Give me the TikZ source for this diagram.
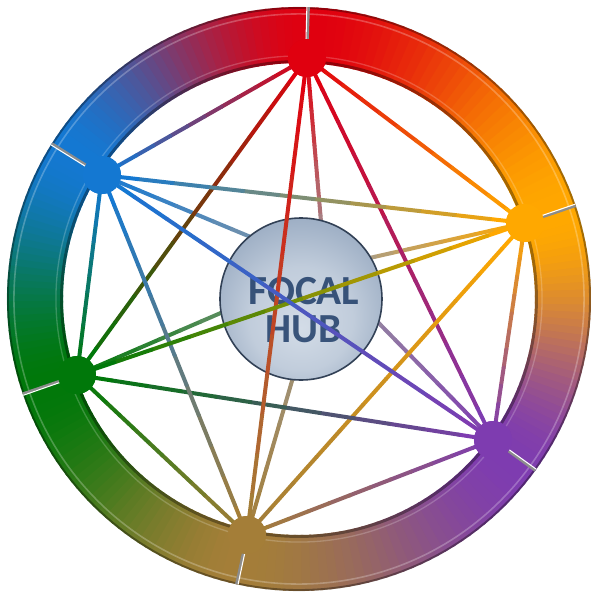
\documentclass[tikz,border=0pt]{standalone}
\usepackage{fontspec}
\setmainfont{Carlito}
\usepackage{tikz}
\usetikzlibrary{calc}
\definecolor{redhub}{HTML}{E0000F}
\definecolor{orangehub}{HTML}{FFA800}
\definecolor{purplehub}{HTML}{7E3CB0}
\definecolor{brownhub}{HTML}{A47E38}
\definecolor{greenhub}{HTML}{00780A}
\definecolor{bluehub}{HTML}{1478D2}
\definecolor{spokegrey}{HTML}{9C9C9C}
\definecolor{hubtextcol}{HTML}{1F3D68}
\definecolor{hublight}{HTML}{D3DCE7}
\definecolor{hubmid}{HTML}{8A9EB8}
\definecolor{hubdark}{HTML}{536C8F}
\pgfdeclareradialshading{hubshade}{\pgfpoint{0bp}{-9bp}}{%
  color(0bp)=(hublight); color(16bp)=(hublight!75!hubmid);
  color(36bp)=(hubmid); color(50bp)=(hubdark)}
\tikzset{
  ringdot/.style={circle, minimum size=28.5pt, inner sep=0pt, fill=#1},
  hubball/.style={circle, minimum size=121.5pt, inner sep=0pt,
    shading=hubshade, draw=hubdark!60!black, line width=1.2pt},
  hubtext/.style={font=\fontsize{31}{28.5}\selectfont\bfseries, text=hubtextcol,
    align=center, opacity=0.85, inner sep=0pt},
  link/.style={line width=3pt, line cap=round},
  ringedge/.style={line width=#1, opacity=0.35},
  separator/.style={black!45, line width=1.8pt}
}
% link that fades from one colour into the other
\newcommand{\gradlink}[4]{%
  \foreach \k in {0,...,11}{
    \pgfmathtruncatemacro{\mixp}{100-100*\k/11}
    \draw[link, #3!\mixp!#4] ($(#1)!\k/12!(#2)$) -- ($(#1)!\k/12+1/12!(#2)$);
  }}
% one stretch of the ring, between two separators
\newcommand{\ringpart}[4]{%
  \foreach \k in {0,...,35}{
    \pgfmathsetmacro{\ta}{#1+(#2-#1)*\k/36}
    \pgfmathsetmacro{\tb}{#1+(#2-#1)*(\k+1.3)/36}
    \pgfmathsetmacro{\ringt}{(\k+0.5)/36}
    \pgfmathtruncatemacro{\mixp}{100-100*\ringt*\ringt*(3-2*\ringt)}
    \fill[#3!\mixp!#4] (\ta:236) -- (\ta:292) -- (\tb:292) -- (\tb:236) -- cycle;
  }}

\begin{document}
\begin{tikzpicture}[x=0.75pt, y=0.75pt]
\useasboundingbox (-299,-298) rectangle (292,299);

% ring
\ringpart{18.6}{88.1}{orangehub}{redhub}
\ringpart{88.1}{147.8}{redhub}{bluehub}
\ringpart{147.8}{198.9}{bluehub}{greenhub}
\ringpart{198.9}{257.6}{greenhub}{brownhub}
\ringpart{257.6}{324.0}{brownhub}{purplehub}
\ringpart{324.0}{378.6}{purplehub}{orangehub}
\draw[ringedge=1.5pt, black] (0,0) circle[radius=218.3pt];
\draw[ringedge=1.2pt, white, opacity=0.25] (0,0) circle[radius=213.8pt];
\draw[ringedge=2.2pt, black] (0,0) circle[radius=178.1pt];
\draw[ringedge=1pt, white, opacity=0.2] (0,0) circle[radius=182.3pt];
\foreach \a in {18.6, 88.1, 147.8, 198.9, 257.6, 324.0}{
  \draw[separator] (\a:236) -- (\a:292);
  \draw[white, line width=0.8pt] (\a+0.35:236) -- (\a+0.35:292);
}

% points on the ring
\coordinate (core) at (26,31);
\node[ringdot=redhub] (red) at (8,241) {};
\node[ringdot=orangehub] (orange) at (226,76) {};
\node[ringdot=purplehub] (purple) at (194,-141) {};
\node[ringdot=brownhub] (brown) at (-52,-236) {};
\node[ringdot=greenhub] (green) at (-222,-76) {};
\node[ringdot=bluehub] (blue) at (-197,124) {};

% spokes behind the hub
\gradlink{red}{core}{redhub}{spokegrey}
\gradlink{orange}{core}{orangehub}{spokegrey}
\gradlink{purple}{core}{purplehub}{spokegrey}
\gradlink{brown}{core}{brownhub}{spokegrey}
\gradlink{green}{core}{greenhub}{spokegrey}
\gradlink{blue}{core}{bluehub}{spokegrey}

\node[hubball] (hub) at (2,0) {};
\node[hubtext] (hublabel) at ([xshift=2.2pt, yshift=-8pt]hub.center) {FOCAL\\HUB};

% links between the points
\gradlink{red}{orange}{redhub}{orangehub}
\gradlink{red}{purple}{redhub}{purplehub}
\gradlink{red}{green}{redhub}{greenhub}
\gradlink{red}{blue}{redhub}{bluehub}
\gradlink{orange}{purple}{orangehub}{purplehub}
\gradlink{orange}{brown}{orangehub}{brownhub}
\gradlink{orange}{blue}{orangehub}{bluehub}
\gradlink{purple}{brown}{purplehub}{brownhub}
\gradlink{purple}{green}{purplehub}{greenhub}
\gradlink{brown}{green}{brownhub}{greenhub}
\gradlink{brown}{blue}{brownhub}{bluehub}
\gradlink{green}{blue}{greenhub}{bluehub}
\gradlink{red}{brown}{redhub}{brownhub}
\gradlink{orange}{green}{orangehub}{greenhub}
\gradlink{blue}{purple}{bluehub}{purplehub}

% points again, on top of the links
\foreach \n/\c in {red/redhub, orange/orangehub, purple/purplehub,
                   brown/brownhub, green/greenhub, blue/bluehub}{
  \fill[\c] (\n) circle[radius=14.25pt];
}
\end{tikzpicture}
\end{document}
